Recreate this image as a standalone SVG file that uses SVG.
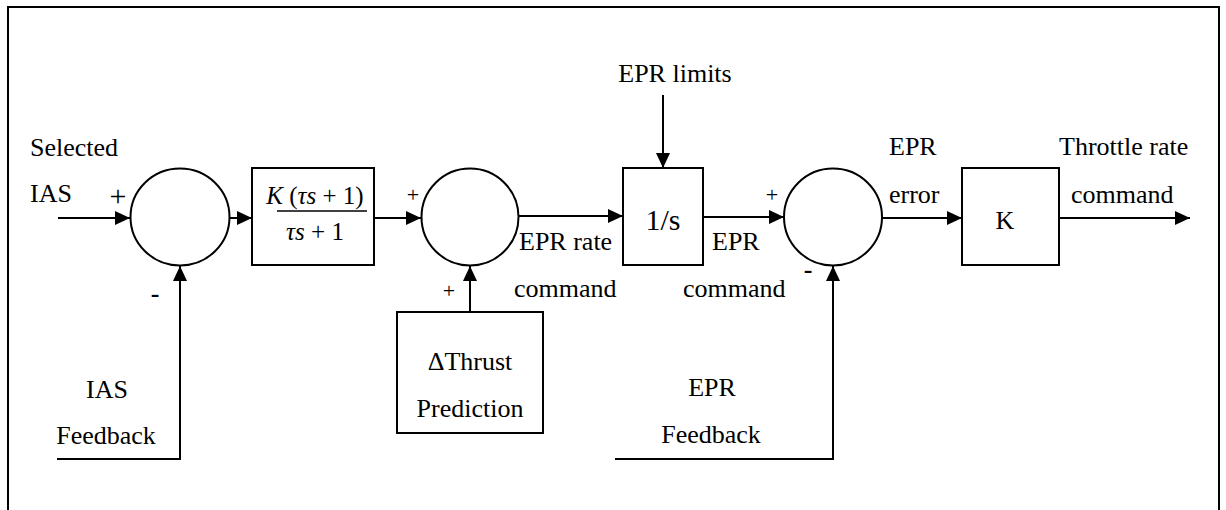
<svg xmlns="http://www.w3.org/2000/svg" width="1226" height="510" viewBox="0 0 1226 510">
<defs>
<marker id="ah" markerUnits="userSpaceOnUse" markerWidth="16" markerHeight="14" refX="15" refY="7" orient="auto">
<path d="M0,0 L15,7 L0,14 z" fill="#000"/>
</marker>
</defs>
<rect width="1226" height="510" fill="#fff"/>
<g fill="none" stroke="#000" stroke-width="2">
<path d="M8,512 V7 H1219 V512"/>
</g>

<g id="sum1" fill="none" stroke="#000" stroke-width="2">
<ellipse cx="180" cy="217" rx="49.5" ry="48.5"/>
</g>
<g id="lead">
<rect x="252" y="168" width="122" height="97" fill="none" stroke="#000" stroke-width="2"/>
<text x="315" y="204" font-family="Liberation Serif" font-size="25" text-anchor="middle"><tspan font-style="italic">K</tspan> (<tspan font-style="italic">τs</tspan> + 1)</text>
<line x1="277" y1="211" x2="367" y2="211" stroke="#000" stroke-width="1.5"/>
<text x="315" y="240" font-family="Liberation Serif" font-size="25" text-anchor="middle"><tspan font-style="italic">τs</tspan> + 1</text>
</g>
<g id="sum2" fill="none" stroke="#000" stroke-width="2">
<ellipse cx="470" cy="217" rx="48.5" ry="48.5"/>
</g>
<g id="thrust">
<rect x="397" y="312" width="146" height="121" fill="none" stroke="#000" stroke-width="2"/>
<text x="470" y="370" font-family="Liberation Serif" font-size="26" text-anchor="middle">ΔThrust</text>
<text x="470" y="417" font-family="Liberation Serif" font-size="26" text-anchor="middle">Prediction</text>
</g>
<g id="integrator">
<rect x="623" y="168" width="80" height="97" fill="none" stroke="#000" stroke-width="2"/>
<text x="663" y="230" font-family="Liberation Serif" font-size="30" text-anchor="middle">1/s</text>
</g>
<g id="sum3" fill="none" stroke="#000" stroke-width="2">
<ellipse cx="833" cy="217" rx="49" ry="48.5"/>
</g>
<g id="gain">
<rect x="962" y="168" width="97" height="97" fill="none" stroke="#000" stroke-width="2"/>
<text x="1005" y="229" font-family="Liberation Serif" font-size="26" text-anchor="middle">K</text>
</g>

<g id="connectors" fill="none" stroke="#000" stroke-width="2">
<line x1="58" y1="218" x2="130" y2="218" marker-end="url(#ah)"/>
<polyline points="57,459 180,459 180,266" marker-end="url(#ah)"/>
<line x1="229" y1="218" x2="252" y2="218" marker-end="url(#ah)"/>
<line x1="374" y1="218" x2="421" y2="218" marker-end="url(#ah)"/>
<line x1="470" y1="312" x2="470" y2="266" marker-end="url(#ah)"/>
<line x1="519" y1="216" x2="623" y2="216" marker-end="url(#ah)"/>
<line x1="663" y1="95" x2="663" y2="168" marker-end="url(#ah)"/>
<line x1="703" y1="217" x2="784" y2="217" marker-end="url(#ah)"/>
<polyline points="615,459 833,459 833,266" marker-end="url(#ah)"/>
<line x1="882" y1="218" x2="962" y2="218" marker-end="url(#ah)"/>
<line x1="1059" y1="218" x2="1190" y2="218" marker-end="url(#ah)"/>
</g>

<g id="labels">
<text x="30" y="156" font-family="Liberation Serif" font-size="26">Selected</text>
<text x="30" y="202" font-family="Liberation Serif" font-size="26">IAS</text>
<text x="118" y="206" font-family="Liberation Serif" font-size="30" text-anchor="middle">+</text>
<text x="155" y="302" font-family="Liberation Serif" font-size="26" font-weight="bold" text-anchor="middle">-</text>
<text x="107" y="398" font-family="Liberation Serif" font-size="26" text-anchor="middle">IAS</text>
<text x="106" y="444" font-family="Liberation Serif" font-size="26" text-anchor="middle">Feedback</text>
<text x="413" y="202" font-family="Liberation Serif" font-size="22" text-anchor="middle">+</text>
<text x="449" y="298" font-family="Liberation Serif" font-size="22" text-anchor="middle">+</text>
<text x="675" y="82" font-family="Liberation Serif" font-size="26" text-anchor="middle">EPR limits</text>
<text x="519" y="250" font-family="Liberation Serif" font-size="26">EPR rate</text>
<text x="514" y="297" font-family="Liberation Serif" font-size="26">command</text>
<text x="772" y="202" font-family="Liberation Serif" font-size="22" text-anchor="middle">+</text>
<text x="712" y="250" font-family="Liberation Serif" font-size="26">EPR</text>
<text x="683" y="297" font-family="Liberation Serif" font-size="26">command</text>
<text x="808" y="278" font-family="Liberation Serif" font-size="26" font-weight="bold" text-anchor="middle">-</text>
<text x="712" y="396" font-family="Liberation Serif" font-size="26" text-anchor="middle">EPR</text>
<text x="711" y="443" font-family="Liberation Serif" font-size="26" text-anchor="middle">Feedback</text>
<text x="889" y="155" font-family="Liberation Serif" font-size="26">EPR</text>
<text x="889" y="203" font-family="Liberation Serif" font-size="26">error</text>
<text x="1059" y="155" font-family="Liberation Serif" font-size="26">Throttle rate</text>
<text x="1071" y="203" font-family="Liberation Serif" font-size="26">command</text>
</g>
</svg>
